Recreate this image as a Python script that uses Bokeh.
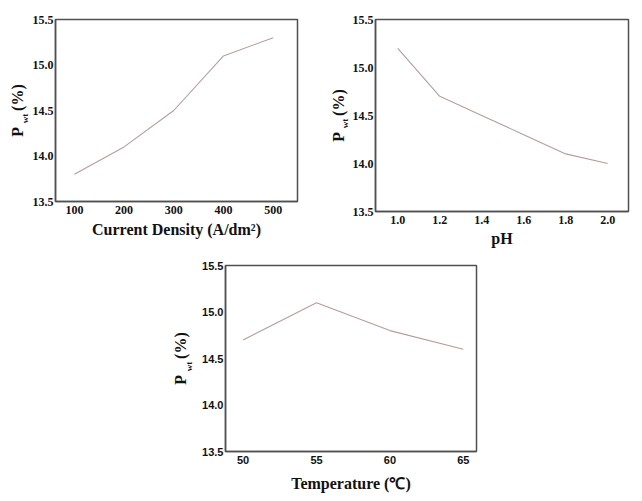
from bokeh.plotting import figure
from bokeh.layouts import column, row
from bokeh.models import FixedTicker, NumeralTickFormatter, LinearAxis
from bokeh.embed import file_html
from bokeh.resources import INLINE

# ---- data ----
current_density = [100, 200, 300, 400, 500]
pwt_current = [13.8, 14.1, 14.5, 15.1, 15.3]

ph_values = [1.0, 1.2, 1.4, 1.6, 1.8, 2.0]
pwt_ph = [15.2, 14.7, 14.5, 14.3, 14.1, 14.0]

temperature = [50, 55, 60, 65]
pwt_temp = [14.7, 15.1, 14.8, 14.6]

y_ticks = [13.5, 14.0, 14.5, 15.0, 15.5]
x_ticks_current = [100, 200, 300, 400, 500]
x_ticks_ph = [1.0, 1.2, 1.4, 1.6, 1.8, 2.0]
x_ticks_temp = [50, 55, 60, 65]

LINE = "#b89c9c"
FRAME = "#505050"
SERIF = "Liberation Serif"
SANS = "Liberation Sans"
NB = "\u00a0"


def make(xs, ys, xr, xticks, xfmt, xlabel, w, h, bl, bt, br, bb,
         tick_font, tick_size, sub_standoff, outer_standoff, title_standoff):
    p = figure(width=w, height=h, x_range=xr, y_range=(13.5, 15.5),
               min_border_left=bl, min_border_top=bt, min_border_right=br,
               min_border_bottom=bb, output_backend="svg", toolbar_location=None,
               background_fill_color="white", border_fill_color="white")
    p.line(xs, ys, line_color=LINE, line_width=1.1)
    p.xgrid.visible = False
    p.ygrid.visible = False
    p.outline_line_color = FRAME
    p.outline_line_width = 1.5
    p.outline_line_alpha = 1.0
    for ax in (p.xaxis, p.yaxis):
        ax.axis_line_color = FRAME
        ax.axis_line_width = 1.5
        ax.major_tick_out = 0
        ax.major_tick_in = 0
        ax.minor_tick_out = 0
        ax.minor_tick_in = 0
        ax.major_label_text_font = tick_font
        ax.major_label_text_font_style = "bold"
        ax.major_label_text_font_size = tick_size
        ax.major_label_text_color = "#111111"
    p.xaxis.major_label_standoff = 4
    p.yaxis.major_label_standoff = 2
    p.xaxis.ticker = FixedTicker(ticks=xticks)
    p.yaxis.ticker = FixedTicker(ticks=y_ticks)
    p.yaxis.formatter = NumeralTickFormatter(format="0.0")
    if xfmt:
        p.xaxis.formatter = NumeralTickFormatter(format=xfmt)
    p.xaxis.axis_label = xlabel
    p.xaxis.axis_label_text_font = SERIF
    p.xaxis.axis_label_text_font_style = "bold"
    p.xaxis.axis_label_text_font_size = "16px"
    p.xaxis.axis_label_text_color = "#111111"
    p.xaxis.axis_label_standoff = title_standoff
    # y label "P_wt (%)": subscript on the inner axis, main text on an outer axis
    p.yaxis.axis_label = "wt" + NB * 7
    p.yaxis.axis_label_text_font = SERIF
    p.yaxis.axis_label_text_font_style = "bold"
    p.yaxis.axis_label_text_font_size = "9px"
    p.yaxis.axis_label_text_color = "#111111"
    p.yaxis.axis_label_standoff = sub_standoff
    outer = LinearAxis(ticker=FixedTicker(ticks=[]), axis_line_color=None,
                       major_tick_out=0, minor_tick_out=0,
                       major_label_text_font_size="1px",
                       axis_label="P" + NB * 4 + "(%)",
                       axis_label_text_font=SERIF,
                       axis_label_text_font_style="bold",
                       axis_label_text_font_size="16px",
                       axis_label_text_color="#111111",
                       axis_label_standoff=outer_standoff)
    p.add_layout(outer, "left")
    return p


p1 = make(current_density, pwt_current, (62, 549), x_ticks_current, None,
          "Current Density (A/dm²)", 308, 251, 55, 17, 11, 50, SERIF, "12px", 0, -9, 4)
p2 = make(ph_values, pwt_ph, (0.894, 2.099), x_ticks_ph, "0.0",
          "pH", 326, 261, 67, 19, 6, 48, SERIF, "12px", 0, -10, 3)
p3 = make(temperature, pwt_temp, (48.8, 65.9), x_ticks_temp, None,
          "Temperature (℃)", 486, 234, 225, 4, 10, 44, SANS, "11px", 5, -7, 8)

layout = column(row(p1, p2), row(p3))
open("out.html", "w").write(file_html(layout, INLINE))
